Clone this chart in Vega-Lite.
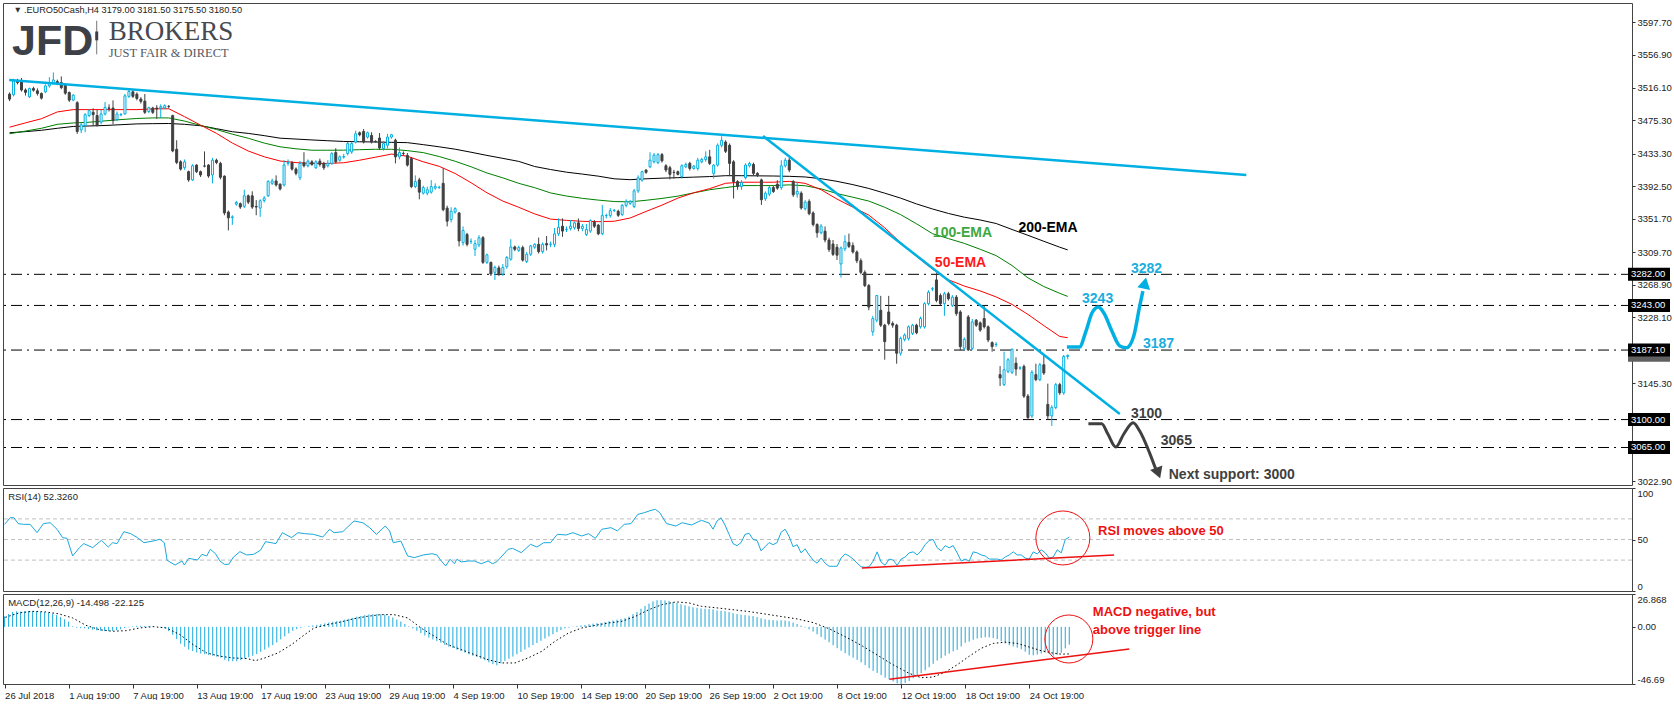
{
"$schema": "https://vega.github.io/schema/vega-lite/v6.json",
"padding": {"left": 2, "top": 2, "right": 0, "bottom": 0},
"background": "white",
"bounds": "flush",
"spacing": 3,
"config": {
  "view": {"stroke": "#444444", "strokeWidth": 1},
  "font": "Liberation Sans",
  "axis": {"labelFont": "Liberation Sans", "labelFontSize": 9.5, "labelColor": "#222222", "tickColor": "#333333", "domain": false, "grid": false, "title": null}
},
"datasets": {
"candles": [
{"i":0,"o":3507.8,"h":3510,"l":3499,"c":3501.6},{"i":1,"o":3507,"h":3527,"l":3505,"c":3524.3},{"i":2,"o":3524.3,"h":3527,"l":3520,"c":3522.3},{"i":3,"o":3524,"h":3528,"l":3511,"c":3513},{"i":4,"o":3513,"h":3515,"l":3506,"c":3510},{"i":5,"o":3504.5,"h":3516,"l":3503,"c":3514.8},{"i":6,"o":3514.8,"h":3517,"l":3511,"c":3512.7},{"i":7,"o":3512,"h":3515,"l":3506,"c":3508.6},{"i":8,"o":3508.6,"h":3510,"l":3501,"c":3502.8},{"i":9,"o":3510.7,"h":3520,"l":3509,"c":3518.1},
{"i":10,"o":3518.1,"h":3529,"l":3516,"c":3522.3},{"i":11,"o":3521.4,"h":3535,"l":3520,"c":3525.6},{"i":12,"o":3523.5,"h":3526,"l":3519,"c":3521.4},{"i":13,"o":3522.3,"h":3530,"l":3514,"c":3516},{"i":14,"o":3519,"h":3521,"l":3507,"c":3509},{"i":15,"o":3509.9,"h":3511,"l":3498,"c":3500.3},{"i":16,"o":3500.3,"h":3508,"l":3499,"c":3506.5},{"i":17,"o":3497,"h":3499,"l":3458,"c":3461},{"i":18,"o":3463,"h":3472,"l":3459,"c":3469.3},{"i":19,"o":3468.5,"h":3484,"l":3460,"c":3482.1},
{"i":20,"o":3480.9,"h":3489,"l":3479,"c":3487.1},{"i":21,"o":3485,"h":3490,"l":3468,"c":3482.1},{"i":22,"o":3481,"h":3488,"l":3467,"c":3468.5},{"i":23,"o":3472.6,"h":3488,"l":3470,"c":3483},{"i":24,"o":3483,"h":3498,"l":3481,"c":3491.2},{"i":25,"o":3490.5,"h":3495,"l":3486,"c":3490},{"i":26,"o":3490.4,"h":3500,"l":3470,"c":3474.7},{"i":27,"o":3476,"h":3486,"l":3474,"c":3483},{"i":28,"o":3482,"h":3484,"l":3480,"c":3482.5},{"i":29,"o":3483,"h":3508,"l":3482,"c":3505.7},
{"i":30,"o":3505,"h":3514,"l":3503,"c":3511.1},{"i":31,"o":3510.7,"h":3514,"l":3503,"c":3505},{"i":32,"o":3507.8,"h":3510,"l":3500,"c":3502.4},{"i":33,"o":3501.6,"h":3504,"l":3496,"c":3498.7},{"i":34,"o":3499,"h":3508,"l":3483,"c":3485},{"i":35,"o":3486,"h":3492,"l":3484,"c":3490.8},{"i":36,"o":3490.4,"h":3492,"l":3483,"c":3485},{"i":37,"o":3490.4,"h":3494,"l":3477,"c":3489.2},{"i":38,"o":3490.4,"h":3495,"l":3478,"c":3492.1},{"i":39,"o":3490.4,"h":3495,"l":3489,"c":3493.3},
{"i":40,"o":3492.5,"h":3494,"l":3490,"c":3492.4},{"i":41,"o":3480.9,"h":3482,"l":3435,"c":3436.6},{"i":42,"o":3438.7,"h":3450,"l":3420,"c":3422.2},{"i":43,"o":3423,"h":3425,"l":3412,"c":3413.9},{"i":44,"o":3415.6,"h":3426,"l":3413,"c":3423},{"i":45,"o":3410.6,"h":3412,"l":3398,"c":3400.3},{"i":46,"o":3400.3,"h":3420,"l":3399,"c":3418},{"i":47,"o":3418.9,"h":3420,"l":3409,"c":3410.6},{"i":48,"o":3410.6,"h":3412,"l":3404,"c":3406.5},{"i":49,"o":3417.8,"h":3436,"l":3416,"c":3417.6},
{"i":50,"o":3418.9,"h":3420,"l":3403,"c":3405.2},{"i":51,"o":3406.5,"h":3428,"l":3396,"c":3425},{"i":52,"o":3425,"h":3427,"l":3420,"c":3422.2},{"i":53,"o":3421,"h":3423,"l":3401,"c":3403.6},{"i":54,"o":3405,"h":3406,"l":3356,"c":3358.9},{"i":55,"o":3360,"h":3362,"l":3337,"c":3352.7},{"i":56,"o":3353,"h":3356,"l":3344,"c":3354},{"i":57,"o":3370,"h":3374,"l":3368,"c":3372},{"i":58,"o":3370.5,"h":3372,"l":3364,"c":3366.3},{"i":59,"o":3367.2,"h":3388,"l":3365,"c":3380.4},
{"i":60,"o":3380.4,"h":3382,"l":3370,"c":3372.5},{"i":61,"o":3380.4,"h":3386,"l":3364,"c":3366.3},{"i":62,"o":3367,"h":3375,"l":3356,"c":3366.3},{"i":63,"o":3365,"h":3376,"l":3354,"c":3374.2},{"i":64,"o":3374.5,"h":3380,"l":3372,"c":3377.5},{"i":65,"o":3380.4,"h":3400,"l":3379,"c":3398.2},{"i":66,"o":3396,"h":3402,"l":3394,"c":3399},{"i":67,"o":3399,"h":3406,"l":3392,"c":3394},{"i":68,"o":3394.9,"h":3396,"l":3387,"c":3389},{"i":69,"o":3394,"h":3425,"l":3392,"c":3418.9},
{"i":70,"o":3421,"h":3426,"l":3418,"c":3422},{"i":71,"o":3421.7,"h":3424,"l":3412,"c":3413.9},{"i":72,"o":3414,"h":3416,"l":3406,"c":3408.5},{"i":73,"o":3403,"h":3424,"l":3400,"c":3421},{"i":74,"o":3421.7,"h":3435,"l":3416,"c":3418},{"i":75,"o":3418,"h":3426,"l":3416,"c":3423.8},{"i":76,"o":3423,"h":3425,"l":3418,"c":3419.7},{"i":77,"o":3415.6,"h":3425,"l":3414,"c":3423},{"i":78,"o":3423.8,"h":3427,"l":3417,"c":3419.7},{"i":79,"o":3421,"h":3423,"l":3413,"c":3415.6},
{"i":80,"o":3418,"h":3425,"l":3416,"c":3421},{"i":81,"o":3421,"h":3435,"l":3419,"c":3433.3},{"i":82,"o":3434.6,"h":3440,"l":3421,"c":3423},{"i":83,"o":3425,"h":3431,"l":3423,"c":3429.2},{"i":84,"o":3429,"h":3433,"l":3427,"c":3429.5},{"i":85,"o":3433.3,"h":3448,"l":3431,"c":3445.8},{"i":86,"o":3435.4,"h":3448,"l":3433,"c":3445.8},{"i":87,"o":3447.8,"h":3462,"l":3446,"c":3458.1},{"i":88,"o":3459.4,"h":3461,"l":3455,"c":3456.9},{"i":89,"o":3461,"h":3464,"l":3446,"c":3447.8},
{"i":90,"o":3454,"h":3461,"l":3452,"c":3459.4},{"i":91,"o":3456,"h":3460,"l":3446,"c":3447.8},{"i":92,"o":3448.6,"h":3450,"l":3447,"c":3448.4},{"i":93,"o":3452.8,"h":3459,"l":3438,"c":3440.4},{"i":94,"o":3439.6,"h":3449,"l":3437,"c":3445.8},{"i":95,"o":3443.7,"h":3458,"l":3440,"c":3454},{"i":96,"o":3454,"h":3458,"l":3452,"c":3456.9},{"i":97,"o":3450,"h":3452,"l":3421,"c":3429.2},{"i":98,"o":3429.2,"h":3441,"l":3426,"c":3434.6},{"i":99,"o":3433.5,"h":3436,"l":3431,"c":3433.3},
{"i":100,"o":3431,"h":3434,"l":3417,"c":3418.9},{"i":101,"o":3427,"h":3429,"l":3390,"c":3392},{"i":102,"o":3392,"h":3406,"l":3390,"c":3398.2},{"i":103,"o":3400.3,"h":3403,"l":3376,"c":3385},{"i":104,"o":3383.7,"h":3393,"l":3382,"c":3390.7},{"i":105,"o":3383.7,"h":3392,"l":3381,"c":3387.9},{"i":106,"o":3385,"h":3400,"l":3383,"c":3392},{"i":107,"o":3390,"h":3396,"l":3388,"c":3392},{"i":108,"o":3390.8,"h":3393,"l":3389,"c":3391},{"i":109,"o":3396,"h":3415,"l":3361,"c":3363},
{"i":110,"o":3365,"h":3368,"l":3342,"c":3348.6},{"i":111,"o":3350.7,"h":3366,"l":3347,"c":3361},{"i":112,"o":3360,"h":3366,"l":3358,"c":3364.3},{"i":113,"o":3358.9,"h":3360,"l":3317,"c":3323.8},{"i":114,"o":3321.7,"h":3342,"l":3318,"c":3337},{"i":115,"o":3332,"h":3334,"l":3317,"c":3319.6},{"i":116,"o":3323,"h":3327,"l":3320,"c":3323.4},{"i":117,"o":3313.4,"h":3325,"l":3305,"c":3320.5},{"i":118,"o":3318.8,"h":3331,"l":3316,"c":3327.9},{"i":119,"o":3327.9,"h":3330,"l":3295,"c":3297},
{"i":120,"o":3297,"h":3308,"l":3295,"c":3306.4},{"i":121,"o":3296.9,"h":3298,"l":3280,"c":3282.4},{"i":122,"o":3284.5,"h":3293,"l":3275,"c":3290.7},{"i":123,"o":3290,"h":3293,"l":3280,"c":3281.6},{"i":124,"o":3282.4,"h":3295,"l":3280,"c":3290.7},{"i":125,"o":3291.5,"h":3305,"l":3289,"c":3303.1},{"i":126,"o":3301,"h":3326,"l":3299,"c":3316.3},{"i":127,"o":3316.3,"h":3318,"l":3311,"c":3313.4},{"i":128,"o":3312,"h":3318,"l":3310,"c":3315.5},{"i":129,"o":3315.5,"h":3318,"l":3298,"c":3299.8},
{"i":130,"o":3298,"h":3310,"l":3296,"c":3307.2},{"i":131,"o":3307.2,"h":3319,"l":3305,"c":3317.6},{"i":132,"o":3316,"h":3321,"l":3314,"c":3319.6},{"i":133,"o":3319.6,"h":3328,"l":3308,"c":3310.5},{"i":134,"o":3310.5,"h":3322,"l":3308,"c":3319.6},{"i":135,"o":3320.5,"h":3330,"l":3312,"c":3318.8},{"i":136,"o":3319.6,"h":3323,"l":3316,"c":3319.8},{"i":137,"o":3319.6,"h":3340,"l":3316,"c":3332.8},{"i":138,"o":3332.8,"h":3352,"l":3330,"c":3341},{"i":139,"o":3342.3,"h":3352,"l":3329,"c":3336.2},
{"i":140,"o":3338,"h":3342,"l":3335,"c":3338.5},{"i":141,"o":3339.5,"h":3350,"l":3337,"c":3342.3},{"i":142,"o":3340.3,"h":3348,"l":3338,"c":3346.5},{"i":143,"o":3346.5,"h":3352,"l":3336,"c":3339.5},{"i":144,"o":3339.5,"h":3345,"l":3336,"c":3342.3},{"i":145,"o":3332,"h":3345,"l":3330,"c":3338.2},{"i":146,"o":3336.2,"h":3351,"l":3334,"c":3349.4},{"i":147,"o":3347.3,"h":3350,"l":3340,"c":3342.3},{"i":148,"o":3343.6,"h":3345,"l":3331,"c":3332.8},{"i":149,"o":3333,"h":3369,"l":3331,"c":3355.6},
{"i":150,"o":3355.6,"h":3358,"l":3352,"c":3355.8},{"i":151,"o":3355.6,"h":3365,"l":3353,"c":3361.8},{"i":152,"o":3362,"h":3364,"l":3360,"c":3362.2},{"i":153,"o":3361,"h":3363,"l":3354,"c":3356},{"i":154,"o":3357,"h":3370,"l":3355,"c":3368.4},{"i":155,"o":3368.4,"h":3376,"l":3366,"c":3373.4},{"i":156,"o":3371,"h":3375,"l":3369,"c":3373.4},{"i":157,"o":3367,"h":3389,"l":3365,"c":3386.6},{"i":158,"o":3386.6,"h":3406,"l":3384,"c":3403},{"i":159,"o":3400,"h":3412,"l":3398,"c":3410.6},
{"i":160,"o":3412.6,"h":3414,"l":3408,"c":3409.8},{"i":161,"o":3416.8,"h":3435,"l":3415,"c":3425},{"i":162,"o":3423,"h":3434,"l":3421,"c":3431.3},{"i":163,"o":3422,"h":3434,"l":3420,"c":3432},{"i":164,"o":3432,"h":3434,"l":3422,"c":3424.2},{"i":165,"o":3418,"h":3420,"l":3410,"c":3412.7},{"i":166,"o":3415.6,"h":3418,"l":3401,"c":3407.3},{"i":167,"o":3409.8,"h":3413,"l":3402,"c":3409.6},{"i":168,"o":3410.6,"h":3412,"l":3406,"c":3407.3},{"i":169,"o":3404.4,"h":3420,"l":3402,"c":3418},
{"i":170,"o":3416.8,"h":3422,"l":3415,"c":3419.7},{"i":171,"o":3421,"h":3423,"l":3412,"c":3414.7},{"i":172,"o":3414.7,"h":3419,"l":3413,"c":3417.6},{"i":173,"o":3414.7,"h":3428,"l":3412,"c":3425},{"i":174,"o":3423,"h":3428,"l":3421,"c":3425.9},{"i":175,"o":3425.9,"h":3436,"l":3423,"c":3429.2},{"i":176,"o":3429.2,"h":3438,"l":3419,"c":3421},{"i":177,"o":3408.5,"h":3420,"l":3402,"c":3418.9},{"i":178,"o":3418.9,"h":3446,"l":3417,"c":3443.7},{"i":179,"o":3443.7,"h":3455,"l":3441,"c":3449.9},
{"i":180,"o":3447.8,"h":3450,"l":3434,"c":3436.2},{"i":181,"o":3443.7,"h":3446,"l":3405,"c":3421},{"i":182,"o":3423,"h":3425,"l":3377,"c":3398.2},{"i":183,"o":3398.2,"h":3400,"l":3388,"c":3392},{"i":184,"o":3392,"h":3400,"l":3388,"c":3397},{"i":185,"o":3403,"h":3421,"l":3401,"c":3418.9},{"i":186,"o":3418,"h":3423,"l":3416,"c":3420.9},{"i":187,"o":3419.7,"h":3422,"l":3406,"c":3408.5},{"i":188,"o":3408.5,"h":3410,"l":3404,"c":3406.5},{"i":189,"o":3400.3,"h":3402,"l":3369,"c":3375.5},
{"i":190,"o":3376.7,"h":3386,"l":3374,"c":3383.7},{"i":191,"o":3382.5,"h":3393,"l":3380,"c":3390.7},{"i":192,"o":3390.7,"h":3393,"l":3384,"c":3385.8},{"i":193,"o":3394.9,"h":3400,"l":3388,"c":3390},{"i":194,"o":3390.7,"h":3425,"l":3388,"c":3418},{"i":195,"o":3418,"h":3428,"l":3416,"c":3425},{"i":196,"o":3425,"h":3428,"l":3410,"c":3412.7},{"i":197,"o":3398.2,"h":3400,"l":3379,"c":3381.7},{"i":198,"o":3382.5,"h":3398,"l":3378,"c":3385.8},{"i":199,"o":3383.7,"h":3386,"l":3363,"c":3365.1},
{"i":200,"o":3364.3,"h":3375,"l":3362,"c":3372.5},{"i":201,"o":3373.4,"h":3376,"l":3356,"c":3358},{"i":202,"o":3358.9,"h":3361,"l":3342,"c":3344.4},{"i":203,"o":3344.4,"h":3346,"l":3328,"c":3334.1},{"i":204,"o":3334.1,"h":3345,"l":3332,"c":3342.3},{"i":205,"o":3336,"h":3342,"l":3322,"c":3325},{"i":206,"o":3325,"h":3328,"l":3310,"c":3313},{"i":207,"o":3320,"h":3325,"l":3305,"c":3307},{"i":208,"o":3316,"h":3320,"l":3300,"c":3306},{"i":209,"o":3295,"h":3317,"l":3278,"c":3315},
{"i":210,"o":3314,"h":3331,"l":3311,"c":3323},{"i":211,"o":3322,"h":3333,"l":3315,"c":3317},{"i":212,"o":3318,"h":3322,"l":3308,"c":3310},{"i":213,"o":3310,"h":3312,"l":3296,"c":3299},{"i":214,"o":3299,"h":3302,"l":3282,"c":3284.5},{"i":215,"o":3284.5,"h":3287,"l":3266,"c":3267.9},{"i":216,"o":3267.9,"h":3270,"l":3237,"c":3241},{"i":217,"o":3210,"h":3230,"l":3205,"c":3226.6},{"i":218,"o":3224.5,"h":3256,"l":3222,"c":3255.5},{"i":219,"o":3236.9,"h":3255,"l":3216,"c":3218.3},
{"i":220,"o":3218.3,"h":3220,"l":3175,"c":3197.6},{"i":221,"o":3234.8,"h":3255,"l":3218,"c":3220.4},{"i":222,"o":3220.4,"h":3223,"l":3215,"c":3218.3},{"i":223,"o":3218.3,"h":3220,"l":3170,"c":3183.1},{"i":224,"o":3183.1,"h":3204,"l":3180,"c":3201.7},{"i":225,"o":3200.5,"h":3208,"l":3198,"c":3205.9},{"i":226,"o":3201.7,"h":3218,"l":3199,"c":3216.2},{"i":227,"o":3208,"h":3220,"l":3206,"c":3218.3},{"i":228,"o":3218.3,"h":3220,"l":3207,"c":3208.8},{"i":229,"o":3216.2,"h":3229,"l":3214,"c":3226.6},
{"i":230,"o":3216.2,"h":3247,"l":3214,"c":3245.2},{"i":231,"o":3245.2,"h":3262,"l":3243,"c":3259.6},{"i":232,"o":3263.7,"h":3266,"l":3261,"c":3264},{"i":233,"o":3275,"h":3284,"l":3247,"c":3249.3},{"i":234,"o":3255.5,"h":3258,"l":3243,"c":3245.2},{"i":235,"o":3245.2,"h":3260,"l":3230,"c":3257.6},{"i":236,"o":3257.6,"h":3260,"l":3249,"c":3251.4},{"i":237,"o":3243.1,"h":3256,"l":3241,"c":3253.4},{"i":238,"o":3253.4,"h":3256,"l":3230,"c":3232.8},{"i":239,"o":3234.8,"h":3237,"l":3187,"c":3191.4},
{"i":240,"o":3189.3,"h":3203,"l":3187,"c":3200.5},{"i":241,"o":3228.6,"h":3231,"l":3186,"c":3187.3},{"i":242,"o":3189.3,"h":3226,"l":3187,"c":3222.4},{"i":243,"o":3224.5,"h":3226,"l":3216,"c":3218.3},{"i":244,"o":3221.2,"h":3223,"l":3210,"c":3212.1},{"i":245,"o":3226.6,"h":3243,"l":3214,"c":3216.2},{"i":246,"o":3216.2,"h":3218,"l":3197,"c":3199.7},{"i":247,"o":3196.4,"h":3198,"l":3185,"c":3191.4},{"i":248,"o":3193.9,"h":3197,"l":3191,"c":3194.3},{"i":249,"o":3156.3,"h":3167,"l":3142,"c":3152.1},
{"i":250,"o":3143.8,"h":3185,"l":3142,"c":3162.5},{"i":251,"o":3160.4,"h":3177,"l":3158,"c":3174.9},{"i":252,"o":3159.2,"h":3189,"l":3157,"c":3188.1},{"i":253,"o":3170.7,"h":3178,"l":3155,"c":3163.3},{"i":254,"o":3164.5,"h":3167,"l":3162,"c":3164.8},{"i":255,"o":3166.6,"h":3169,"l":3127,"c":3129.4},{"i":256,"o":3129.4,"h":3132,"l":3100,"c":3102.5},{"i":257,"o":3104.6,"h":3162,"l":3102,"c":3159.2},{"i":258,"o":3156.3,"h":3170,"l":3148,"c":3150},{"i":259,"o":3150,"h":3171,"l":3148,"c":3168.7},
{"i":260,"o":3168.7,"h":3181,"l":3156,"c":3158.3},{"i":261,"o":3119,"h":3145,"l":3100,"c":3104.6},{"i":262,"o":3104.6,"h":3118,"l":3092,"c":3115},{"i":263,"o":3115,"h":3146,"l":3113,"c":3143.8},{"i":264,"o":3143.8,"h":3146,"l":3131,"c":3133.5},{"i":265,"o":3133.5,"h":3181,"l":3131,"c":3179},{"i":266,"o":3179,"h":3181.5,"l":3175.5,"c":3180.5}
],
"ema": [
{"i":0,"e50":3466.4,"e100":3458.2,"e200":3459.4},{"i":4,"e50":3471.8,"e100":3461.5,"e200":3460.8},{"i":8,"e50":3477,"e100":3465,"e200":3462.5},{"i":12,"e50":3485.5,"e100":3470,"e200":3465},{"i":16,"e50":3488.4,"e100":3471.7,"e200":3467.3},{"i":20,"e50":3488.4,"e100":3472.6,"e200":3467.9},{"i":24,"e50":3488.4,"e100":3474.3,"e200":3468.5},{"i":28,"e50":3488.4,"e100":3475.9,"e200":3469.5},{"i":32,"e50":3488.4,"e100":3477.3,"e200":3470.5},{"i":36,"e50":3489.3,"e100":3478,"e200":3470.8},
{"i":40,"e50":3489.5,"e100":3478,"e200":3471},{"i":44,"e50":3479.5,"e100":3474,"e200":3470},{"i":48,"e50":3469,"e100":3468.6,"e200":3468.2},{"i":52,"e50":3458.7,"e100":3463.5,"e200":3464.5},{"i":56,"e50":3446.5,"e100":3457.6,"e200":3460.7},{"i":60,"e50":3436.5,"e100":3452.5,"e200":3458.6},{"i":64,"e50":3429.3,"e100":3446.5,"e200":3455.8},{"i":68,"e50":3424,"e100":3441.8,"e200":3452.6},{"i":72,"e50":3422,"e100":3439.3,"e200":3451.5},{"i":76,"e50":3421,"e100":3437.5,"e200":3450.4},
{"i":80,"e50":3421,"e100":3437.5,"e200":3449.4},{"i":84,"e50":3421.8,"e100":3437.6,"e200":3448.5},{"i":88,"e50":3425,"e100":3438.2,"e200":3448.1},{"i":92,"e50":3428.8,"e100":3438.7,"e200":3447.8},{"i":96,"e50":3432.7,"e100":3438.7,"e200":3447.4},{"i":100,"e50":3430,"e100":3437,"e200":3447},{"i":104,"e50":3423,"e100":3434.5,"e200":3444.5},{"i":108,"e50":3417.3,"e100":3429.6,"e200":3441.8},{"i":112,"e50":3408.4,"e100":3423.7,"e200":3438.8},{"i":116,"e50":3396.8,"e100":3416.8,"e200":3435},
{"i":120,"e50":3384.2,"e100":3409,"e200":3431},{"i":124,"e50":3373.8,"e100":3402.9,"e200":3427.3},{"i":128,"e50":3366,"e100":3396,"e200":3423.5},{"i":132,"e50":3357.7,"e100":3390.6,"e200":3417.1},{"i":136,"e50":3351.2,"e100":3384,"e200":3413.3},{"i":140,"e50":3349.6,"e100":3380.1,"e200":3410},{"i":144,"e50":3348.4,"e100":3377.2,"e200":3407.6},{"i":148,"e50":3348,"e100":3375,"e200":3405},{"i":152,"e50":3348.5,"e100":3373.2,"e200":3401.7},{"i":156,"e50":3352.6,"e100":3372.8,"e200":3400.6},
{"i":160,"e50":3360.8,"e100":3374.8,"e200":3401.7},{"i":164,"e50":3368.7,"e100":3377.1,"e200":3402.5},{"i":168,"e50":3377.5,"e100":3380,"e200":3403.1},{"i":172,"e50":3384.2,"e100":3384.1,"e200":3403.8},{"i":176,"e50":3389.4,"e100":3388,"e200":3404.5},{"i":180,"e50":3396.1,"e100":3390.7,"e200":3405.6},{"i":184,"e50":3397.4,"e100":3393.2,"e200":3405.6},{"i":188,"e50":3397.4,"e100":3393.2,"e200":3405.4},{"i":192,"e50":3397.4,"e100":3393.2,"e200":3405.2},{"i":196,"e50":3398.5,"e100":3394.1,"e200":3404.8},
{"i":200,"e50":3396,"e100":3393,"e200":3404},{"i":204,"e50":3388,"e100":3389.1,"e200":3401.8},{"i":208,"e50":3376.3,"e100":3383.2,"e200":3398.5},{"i":212,"e50":3366.2,"e100":3378.6,"e200":3394.4},{"i":216,"e50":3356.2,"e100":3373.8,"e200":3389.6},{"i":220,"e50":3340.3,"e100":3366,"e200":3383.7},{"i":224,"e50":3321.7,"e100":3356.8,"e200":3377.5},{"i":228,"e50":3304.4,"e100":3345.3,"e200":3370.2},{"i":232,"e50":3288.5,"e100":3333,"e200":3363.9},{"i":236,"e50":3275.2,"e100":3326.8,"e200":3358.3},
{"i":240,"e50":3267.3,"e100":3320.8,"e200":3353.6},{"i":244,"e50":3261.2,"e100":3313.4,"e200":3350.1},{"i":248,"e50":3253.7,"e100":3305.5,"e200":3345.7},{"i":252,"e50":3244.3,"e100":3293,"e200":3338.2},{"i":256,"e50":3231.8,"e100":3277.6,"e200":3330.9},{"i":260,"e50":3217.7,"e100":3266.7,"e200":3323.4},{"i":264,"e50":3204.1,"e100":3258.2,"e200":3316},{"i":266,"e50":3202.6,"e100":3254.3,"e200":3312.6}
],
"rsi": [
{"i":0,"r":64.7},{"i":1.4,"r":71.2},{"i":2.3,"r":71.2},{"i":3.4,"r":65.4},{"i":4.7,"r":64.7},{"i":6.4,"r":64.7},{"i":8.1,"r":56.6},{"i":9.7,"r":65.4},{"i":11.4,"r":66.3},{"i":13.1,"r":59.9},{"i":14.5,"r":51.8},{"i":15.6,"r":51.1},{"i":17,"r":34},{"i":18.7,"r":42.1},{"i":19.8,"r":46},{"i":22,"r":42.1},{"i":24.2,"r":49.2},{"i":25.9,"r":42.7},{"i":27,"r":46.9},{"i":28.1,"r":46},{"i":29.8,"r":57.6},{"i":31.5,"r":55.7},{"i":33.2,"r":51.8},{"i":34.8,"r":46.9},{"i":37.1,"r":48.5},{"i":38.8,"r":50.2},{"i":39.9,"r":46.9},{"i":40.6,"r":29.8},{"i":42.6,"r":25.2},{"i":44.3,"r":29.1},{"i":44.9,"r":25.2},{"i":46,"r":31.7},{"i":48.2,"r":30.1},{"i":49.3,"r":35.6},{"i":50.5,"r":34},{"i":51.4,"r":40.5},{"i":52.7,"r":36.2},{"i":53.8,"r":29.1},{"i":54.9,"r":25.9},{"i":56,"r":25.9},{"i":57.2,"r":33},{"i":58.8,"r":38.2},{"i":60.5,"r":35},{"i":62.2,"r":35.6},{"i":63.9,"r":39.5},{"i":65.2,"r":47.9},{"i":66.6,"r":46.9},{"i":67.8,"r":46},{"i":69.4,"r":56.6},{"i":71.7,"r":51.8},{"i":73.3,"r":56.6},{"i":75,"r":55.7},{"i":77.2,"r":55},{"i":79.5,"r":52.4},{"i":81.2,"r":59.9},{"i":82.3,"r":56.6},{"i":84.5,"r":57.6},{"i":87.3,"r":68},{"i":89.5,"r":66.3},{"i":91.2,"r":61.5},{"i":92.9,"r":55},{"i":95.1,"r":63.1},{"i":96.2,"r":58.3},{"i":97.1,"r":46.9},{"i":99,"r":48.5},{"i":100.7,"r":34},{"i":102.4,"r":32.4},{"i":104.6,"r":35},{"i":106.8,"r":36.2},{"i":108,"r":35},{"i":109.1,"r":29.1},{"i":110.2,"r":24.3},{"i":111.3,"r":30.8},{"i":112.4,"r":26.5},{"i":113,"r":30.8},{"i":114.1,"r":28.2},{"i":115.8,"r":29.1},{"i":117.4,"r":29.1},{"i":119.1,"r":26.5},{"i":120.8,"r":29.1},{"i":121.9,"r":26.5},{"i":123,"r":28.5},{"i":125.8,"r":40.5},{"i":126.9,"r":41.4},{"i":129.1,"r":37.2},{"i":131.4,"r":45.3},{"i":133,"r":42.7},{"i":134.7,"r":46.9},{"i":136.4,"r":46.9},{"i":138.1,"r":55},{"i":140.3,"r":54.4},{"i":142,"r":56.6},{"i":144.2,"r":53.4},{"i":145.9,"r":55.7},{"i":147.6,"r":51.1},{"i":149.2,"r":59.9},{"i":151.5,"r":61.5},{"i":153.1,"r":58.3},{"i":154.8,"r":64.7},{"i":156.5,"r":65.4},{"i":158.2,"r":74.4},{"i":159.8,"r":76},{"i":161.5,"r":78.3},{"i":162.6,"r":79.3},{"i":163.7,"r":76},{"i":165.4,"r":65.4},{"i":167.7,"r":63.1},{"i":169.3,"r":66.3},{"i":171.6,"r":64.1},{"i":174.1,"r":68.6},
{"i":176,"r":66},{"i":177,"r":60},{"i":178,"r":68},{"i":179,"r":71},{"i":180,"r":64},{"i":181,"r":55},{"i":182,"r":46},{"i":183,"r":44},{"i":184,"r":47},{"i":185,"r":55},{"i":186,"r":56},{"i":187,"r":50},{"i":188,"r":49},{"i":189,"r":39},{"i":190,"r":43},{"i":191,"r":47},{"i":192,"r":45},{"i":193,"r":47},{"i":194,"r":57},{"i":195,"r":60},{"i":196,"r":53},{"i":197,"r":43},{"i":198,"r":45},{"i":199,"r":37},{"i":200,"r":41},{"i":201,"r":35},{"i":202,"r":30},{"i":203,"r":27},{"i":204,"r":32},{"i":205,"r":27},{"i":206,"r":24},{"i":207,"r":24},{"i":208,"r":24},{"i":209,"r":32},{"i":210,"r":36},{"i":211,"r":34},{"i":212,"r":31},{"i":213,"r":27},{"i":214,"r":23.5},{"i":215,"r":23},{"i":216,"r":23.5},{"i":217,"r":29},{"i":218,"r":38},{"i":219,"r":28},{"i":220,"r":25},{"i":221,"r":31},{"i":222,"r":30},{"i":223,"r":25},{"i":224,"r":31},{"i":225,"r":33},{"i":226,"r":37},{"i":227,"r":38},{"i":228,"r":35},{"i":229,"r":39},{"i":230,"r":45},{"i":231,"r":49},{"i":232,"r":50},{"i":233,"r":42},{"i":234,"r":39},{"i":235,"r":44},{"i":236,"r":42},{"i":237,"r":44},{"i":238,"r":37},{"i":239,"r":29},{"i":240,"r":31},{"i":241,"r":29},{"i":242,"r":38},{"i":243,"r":37},{"i":244,"r":35},{"i":245,"r":34},{"i":246,"r":31},{"i":247,"r":31},{"i":248,"r":31},{"i":249,"r":30},{"i":250,"r":33},{"i":251,"r":35},{"i":252,"r":38},{"i":253,"r":35},{"i":254,"r":35},{"i":255,"r":32},{"i":256,"r":31},{"i":257,"r":38},{"i":258,"r":36},{"i":259,"r":40},{"i":260,"r":37},{"i":261,"r":32},{"i":262,"r":33},{"i":263,"r":40},{"i":264,"r":37},{"i":265,"r":50},{"i":266,"r":52.3}
],
"macd": [
{"i":0,"h":8.6},{"i":1,"h":10.5},{"i":2,"h":12.2},{"i":3,"h":12.7},{"i":4,"h":12.5},{"i":5,"h":12.8},{"i":6,"h":13},{"i":7,"h":12.9},{"i":8,"h":12.7},{"i":9,"h":12.4},{"i":10,"h":12.2},{"i":11,"h":11.6},{"i":12,"h":10.8},{"i":13,"h":9.6},{"i":14,"h":8},{"i":15,"h":6.2},{"i":16,"h":4.3},{"i":17,"h":0.5},{"i":18,"h":-0.6},{"i":19,"h":-1},{"i":20,"h":-1.2},{"i":21,"h":-1.8},{"i":22,"h":-2.3},{"i":23,"h":-2.8},{"i":24,"h":-3.2},{"i":25,"h":-3.5},{"i":26,"h":-3.6},{"i":27,"h":-3.3},{"i":28,"h":-2.7},{"i":29,"h":-2},{"i":30,"h":-1},{"i":31,"h":-0.3},{"i":32,"h":0.4},{"i":33,"h":0.8},{"i":34,"h":0.9},{"i":35,"h":0.7},{"i":36,"h":0.5},{"i":37,"h":0.3},{"i":38,"h":0},{"i":39,"h":-0.4},
{"i":40,"h":-1.2},{"i":41,"h":-3.5},{"i":42,"h":-6.5},{"i":43,"h":-10},{"i":44,"h":-13.7},{"i":45,"h":-16.2},{"i":46,"h":-18.6},{"i":47,"h":-19.8},{"i":48,"h":-21},{"i":49,"h":-21.8},{"i":50,"h":-22.4},{"i":51,"h":-23},{"i":52,"h":-23.6},{"i":53,"h":-24.3},{"i":54,"h":-25.2},{"i":55,"h":-26.9},{"i":56,"h":-28.1},{"i":57,"h":-28.1},{"i":58,"h":-28.1},{"i":59,"h":-27.2},{"i":60,"h":-26},{"i":61,"h":-24.8},{"i":62,"h":-23.6},{"i":63,"h":-22.2},{"i":64,"h":-20.4},{"i":65,"h":-18.6},{"i":66,"h":-16.8},{"i":67,"h":-14.9},{"i":68,"h":-12.8},{"i":69,"h":-10.2},{"i":70,"h":-7.8},{"i":71,"h":-5.3},{"i":72,"h":-3.2},{"i":73,"h":-1.9},{"i":74,"h":-0.8},{"i":75,"h":0.2},{"i":76,"h":0.6},{"i":77,"h":1.2},{"i":78,"h":1.6},{"i":79,"h":2.2},
{"i":80,"h":2.8},{"i":81,"h":3.5},{"i":82,"h":4.2},{"i":83,"h":4.7},{"i":84,"h":5.1},{"i":85,"h":5.9},{"i":86,"h":6.6},{"i":87,"h":7.4},{"i":88,"h":8.3},{"i":89,"h":8.9},{"i":90,"h":9.6},{"i":91,"h":10.1},{"i":92,"h":10.4},{"i":93,"h":10.6},{"i":94,"h":10.4},{"i":95,"h":10.1},{"i":96,"h":9},{"i":97,"h":7.7},{"i":98,"h":6},{"i":99,"h":4.4},{"i":100,"h":2.4},{"i":101,"h":0.5},{"i":102,"h":-1.2},{"i":103,"h":-3.2},{"i":104,"h":-5},{"i":105,"h":-7},{"i":106,"h":-8.7},{"i":107,"h":-10.3},{"i":108,"h":-11.7},{"i":109,"h":-13},{"i":110,"h":-14.7},{"i":111,"h":-16.2},{"i":112,"h":-17.3},{"i":113,"h":-18.6},{"i":114,"h":-19.8},{"i":115,"h":-21},{"i":116,"h":-22.5},{"i":117,"h":-23.6},{"i":118,"h":-24.7},{"i":119,"h":-26},
{"i":120,"h":-27.3},{"i":121,"h":-29},{"i":122,"h":-30.5},{"i":123,"h":-31.4},{"i":124,"h":-29.8},{"i":125,"h":-27.8},{"i":126,"h":-26},{"i":127,"h":-24.3},{"i":128,"h":-22.4},{"i":129,"h":-20.5},{"i":130,"h":-18.6},{"i":131,"h":-16.8},{"i":132,"h":-14.9},{"i":133,"h":-13.2},{"i":134,"h":-11.4},{"i":135,"h":-9.6},{"i":136,"h":-7.8},{"i":137,"h":-6},{"i":138,"h":-4.3},{"i":139,"h":-2.6},{"i":140,"h":-1.2},{"i":141,"h":-0.6},{"i":142,"h":0.2},{"i":143,"h":0.7},{"i":144,"h":1.2},{"i":145,"h":1.6},{"i":146,"h":2.2},{"i":147,"h":2.6},{"i":148,"h":3},{"i":149,"h":3.3},{"i":150,"h":4},{"i":151,"h":4.6},{"i":152,"h":5.2},{"i":153,"h":5.9},{"i":154,"h":6.5},{"i":155,"h":7.1},{"i":156,"h":8.4},{"i":157,"h":10.4},{"i":158,"h":12.3},{"i":159,"h":14.8},
{"i":160,"h":17.1},{"i":161,"h":19},{"i":162,"h":20.8},{"i":163,"h":21.8},{"i":164,"h":21.9},{"i":165,"h":21.6},{"i":166,"h":21.1},{"i":167,"h":20.2},{"i":168,"h":19.4},{"i":169,"h":18.4},{"i":170,"h":17.6},{"i":171,"h":16.8},{"i":172,"h":16},{"i":173,"h":15.6},{"i":174,"h":15},{"i":175,"h":14.8},{"i":176,"h":14.6},{"i":177,"h":14.2},{"i":178,"h":13.5},{"i":179,"h":13.2},{"i":180,"h":12.8},{"i":181,"h":12},{"i":182,"h":11.2},{"i":183,"h":10.5},{"i":184,"h":10},{"i":185,"h":9.6},{"i":186,"h":9.2},{"i":187,"h":8.8},{"i":188,"h":8},{"i":189,"h":7},{"i":190,"h":6.2},{"i":191,"h":5.8},{"i":192,"h":5.5},{"i":193,"h":5.2},{"i":194,"h":5.4},{"i":195,"h":5.2},{"i":196,"h":4.6},{"i":197,"h":3.5},{"i":198,"h":2.4},{"i":199,"h":1},
{"i":200,"h":-0.5},{"i":201,"h":-2},{"i":202,"h":-3.8},{"i":203,"h":-6},{"i":204,"h":-8.2},{"i":205,"h":-10.4},{"i":206,"h":-12.6},{"i":207,"h":-15},{"i":208,"h":-17.4},{"i":209,"h":-19.5},{"i":210,"h":-21.5},{"i":211,"h":-23.4},{"i":212,"h":-25.2},{"i":213,"h":-27},{"i":214,"h":-29},{"i":215,"h":-31.3},{"i":216,"h":-33.8},{"i":217,"h":-36},{"i":218,"h":-37.6},{"i":219,"h":-39.5},{"i":220,"h":-41.5},{"i":221,"h":-43},{"i":222,"h":-44.6},{"i":223,"h":-46.2},{"i":224,"h":-46.7},{"i":225,"h":-45.8},{"i":226,"h":-44.2},{"i":227,"h":-42},{"i":228,"h":-39.8},{"i":229,"h":-37.8},{"i":230,"h":-35.5},{"i":231,"h":-33},{"i":232,"h":-30.2},{"i":233,"h":-27.5},{"i":234,"h":-25.6},{"i":235,"h":-23.5},{"i":236,"h":-21.8},{"i":237,"h":-20},{"i":238,"h":-18.8},{"i":239,"h":-16},
{"i":240,"h":-13},{"i":241,"h":-12},{"i":242,"h":-10.5},{"i":243,"h":-9.5},{"i":244,"h":-9},{"i":245,"h":-8.5},{"i":246,"h":-8.6},{"i":247,"h":-9.2},{"i":248,"h":-10},{"i":249,"h":-11.8},{"i":250,"h":-13.5},{"i":251,"h":-15},{"i":252,"h":-16},{"i":253,"h":-17},{"i":254,"h":-18.3},{"i":255,"h":-20.3},{"i":256,"h":-22.8},{"i":257,"h":-23.2},{"i":258,"h":-22.6},{"i":259,"h":-21.8},{"i":260,"h":-21},{"i":261,"h":-22.3},{"i":262,"h":-23.6},{"i":263,"h":-22.8},{"i":264,"h":-21.2},{"i":265,"h":-17.6},{"i":266,"h":-14.5}
],
"signal": [
{"i":0.2,"s":7.8},{"i":3.6,"s":11.4},{"i":6.9,"s":12.7},{"i":10.3,"s":12.2},{"i":13.6,"s":10.6},{"i":17,"s":7.3},{"i":20.3,"s":1.3},{"i":23.7,"s":-2.3},{"i":27,"s":-3.6},{"i":30.4,"s":-3.1},{"i":33.7,"s":-0.9},{"i":37.1,"s":0.2},{"i":40.4,"s":-0.9},{"i":43.8,"s":-6.3},{"i":47.1,"s":-14.5},{"i":50.5,"s":-21.3},{"i":53.8,"s":-24},{"i":57.2,"s":-25.4},{"i":60.5,"s":-25.9},{"i":62.7,"s":-27.6},{"i":65,"s":-25.4},{"i":68.3,"s":-21.3},{"i":71.7,"s":-14.5},{"i":75,"s":-6.3},{"i":77.3,"s":-0.9},{"i":80.6,"s":1.8},{"i":84,"s":4},{"i":87.3,"s":6.7},{"i":90.6,"s":8.6},{"i":94,"s":10},{"i":97.3,"s":10},{"i":100.7,"s":7.3},{"i":104,"s":-0.9},{"i":107.4,"s":-7.7},{"i":110.7,"s":-14.5},{"i":114.1,"s":-18.6},{"i":117.4,"s":-22.7},{"i":120.8,"s":-26.8},{"i":124.1,"s":-29.5},{"i":127.5,"s":-29.5},{"i":130.8,"s":-25.4},{"i":134.2,"s":-20},{"i":137.5,"s":-11.8},{"i":140.9,"s":-5},{"i":144.2,"s":-0.9},{"i":147.6,"s":1.3},{"i":150.9,"s":3.2},{"i":154.3,"s":4.6},{"i":157.6,"s":8.6},{"i":161,"s":14.1},{"i":164.3,"s":18.2},{"i":167.7,"s":20.4},{"i":171,"s":19.6},{"i":174.1,"s":16.8},
{"i":178,"s":15.5},{"i":182,"s":14},{"i":186,"s":12.5},{"i":190,"s":10.5},{"i":194,"s":8.5},{"i":198,"s":6.5},{"i":202,"s":3.5},{"i":206,"s":-1.5},{"i":210,"s":-8},{"i":214,"s":-15},{"i":218,"s":-23},{"i":222,"s":-31},{"i":226,"s":-38},{"i":229,"s":-41.5},{"i":232,"s":-41},{"i":235,"s":-37},{"i":238,"s":-31},{"i":241,"s":-24},{"i":244,"s":-17.5},{"i":247,"s":-13.5},{"i":250,"s":-12.5},{"i":253,"s":-13.5},{"i":256,"s":-16.5},{"i":259,"s":-19.5},{"i":262,"s":-21.5},{"i":264,"s":-22.3},{"i":266,"s":-22.1}
]
},
"vconcat": [
{
"width": 1629, "height": 482,
"layer": [
{"data": {"values": [{"p":3282},{"p":3243},{"p":3187.1},{"p":3100},{"p":3065}]},
 "mark": {"type": "rule", "color": "#000000", "strokeWidth": 1, "strokeDash": [11, 5, 2, 5]},
 "encoding": {"y": {"field": "p", "type": "quantitative", "scale": {"domain": [3018, 3622], "nice": false, "zero": false},
   "axis": {"orient": "right", "values": [3597.7, 3556.9, 3516.1, 3475.3, 3433.3, 3392.5, 3351.7, 3309.7, 3268.9, 3228.1, 3145.3, 3022.9], "format": ".2f", "tickSize": 3, "labelPadding": 2, "labelBaseline": "middle"}}}},
{"data": {"name": "ema"}, "mark": {"type": "line", "color": "#000000", "strokeWidth": 1},
 "encoding": {"x": {"field": "i", "type": "quantitative", "scale": {"domain": [-0.4, 406.6], "nice": false, "zero": false}, "axis": null}, "y": {"field": "e200", "type": "quantitative"}}},
{"data": {"name": "ema"}, "mark": {"type": "line", "color": "#008000", "strokeWidth": 1},
 "encoding": {"x": {"field": "i", "type": "quantitative"}, "y": {"field": "e100", "type": "quantitative"}}},
{"data": {"name": "ema"}, "mark": {"type": "line", "color": "#ff0000", "strokeWidth": 1},
 "encoding": {"x": {"field": "i", "type": "quantitative"}, "y": {"field": "e50", "type": "quantitative"}}},
{"data": {"name": "candles"}, "mark": {"type": "rule", "strokeWidth": 1},
 "encoding": {"x": {"field": "i", "type": "quantitative"}, "y": {"field": "l", "type": "quantitative"}, "y2": {"field": "h"},
   "color": {"condition": {"test": "datum.c >= datum.o", "value": "#00aee0"}, "value": "#404040"}}},
{"data": {"name": "candles"}, "mark": {"type": "bar", "width": 2, "strokeWidth": 1},
 "encoding": {"x": {"field": "i", "type": "quantitative"}, "y": {"field": "o", "type": "quantitative"}, "y2": {"field": "c"},
   "fill": {"condition": {"test": "datum.c >= datum.o", "value": "#ffffff"}, "value": "#404040"},
   "stroke": {"condition": {"test": "datum.c >= datum.o", "value": "#00aee0"}, "value": "#404040"}}},
{"data": {"values": [{"g":"a","i":-0.1,"p":3525.5},{"g":"a","i":310.9,"p":3406.4},{"g":"b","i":189.4,"p":3455.3},{"g":"b","i":279.1,"p":3106.9}]},
 "mark": {"type": "line", "color": "#00b0e2", "strokeWidth": 2.5},
 "encoding": {"x": {"field": "i", "type": "quantitative"}, "y": {"field": "p", "type": "quantitative"}, "detail": {"field": "g"}}},
{"data": {"values": [{"i":265.8,"p":3190.9},{"i":268.95,"p":3190.9},{"i":270.6,"p":3210.9},{"i":272.1,"p":3233.5},{"i":273.7,"p":3241},{"i":275.1,"p":3233.5},{"i":277.1,"p":3210.9},{"i":279.1,"p":3192.2},{"i":280.8,"p":3190},{"i":282.6,"p":3204.7},{"i":284.1,"p":3242.3},{"i":284.9,"p":3261}]},
 "mark": {"type": "line", "color": "#00b0e2", "strokeWidth": 3.5, "interpolate": "monotone"},
 "encoding": {"x": {"field": "i", "type": "quantitative"}, "y": {"field": "p", "type": "quantitative"}}},
{"data": {"values": [{"i":271.2,"p":3094.8},{"i":274.55,"p":3094.8},{"i":276.1,"p":3081.9},{"i":278.1,"p":3065.6},{"i":280.1,"p":3081.9},{"i":282.45,"p":3096},{"i":284.1,"p":3085.6},{"i":286.6,"p":3058},{"i":288.2,"p":3037}]},
 "mark": {"type": "line", "color": "#404040", "strokeWidth": 3, "interpolate": "monotone"},
 "encoding": {"x": {"field": "i", "type": "quantitative"}, "y": {"field": "p", "type": "quantitative"}}},
{"data": {"values": [{"i":285.4,"p":3271.1}]},
 "mark": {"type": "point", "shape": "triangle-up", "filled": true, "color": "#00b0e2", "size": 170, "angle": 12, "opacity": 1},
 "encoding": {"x": {"field": "i", "type": "quantitative"}, "y": {"field": "p", "type": "quantitative"}}},
{"data": {"values": [{"i":288.75,"p":3033}]},
 "mark": {"type": "point", "shape": "triangle-down", "filled": true, "color": "#404040", "size": 170, "angle": -20, "opacity": 1},
 "encoding": {"x": {"field": "i", "type": "quantitative"}, "y": {"field": "p", "type": "quantitative"}}},
{"data": {"values": [{"i":253.6,"p":3340,"t":"200-EMA"}]},
 "mark": {"type": "text", "align": "left", "baseline": "middle", "font": "Liberation Sans", "fontWeight": "bold", "fontSize": 14, "color": "#000000"},
 "encoding": {"x": {"field": "i", "type": "quantitative"}, "y": {"field": "p", "type": "quantitative"}, "text": {"field": "t"}}},
{"data": {"values": [{"i":232.1,"p":3333.7,"t":"100-EMA"}]},
 "mark": {"type": "text", "align": "left", "baseline": "middle", "font": "Liberation Sans", "fontWeight": "bold", "fontSize": 14, "color": "#3ea83e"},
 "encoding": {"x": {"field": "i", "type": "quantitative"}, "y": {"field": "p", "type": "quantitative"}, "text": {"field": "t"}}},
{"data": {"values": [{"i":232.6,"p":3296.1,"t":"50-EMA"}]},
 "mark": {"type": "text", "align": "left", "baseline": "middle", "font": "Liberation Sans", "fontWeight": "bold", "fontSize": 14, "color": "#ff1a1a"},
 "encoding": {"x": {"field": "i", "type": "quantitative"}, "y": {"field": "p", "type": "quantitative"}, "text": {"field": "t"}}},
{"data": {"values": [{"i":281.9,"p":3289,"t":"3282"},{"i":269.6,"p":3250.7,"t":"3243"},{"i":284.9,"p":3194.3,"t":"3187"}]},
 "mark": {"type": "text", "align": "left", "baseline": "middle", "font": "Liberation Sans", "fontWeight": "bold", "fontSize": 14, "color": "#1aaee0"},
 "encoding": {"x": {"field": "i", "type": "quantitative"}, "y": {"field": "p", "type": "quantitative"}, "text": {"field": "t"}}},
{"data": {"values": [{"i":281.9,"p":3106.6,"t":"3100"},{"i":289.4,"p":3073.1,"t":"3065"},{"i":291.4,"p":3030.1,"t":"Next support: 3000"}]},
 "mark": {"type": "text", "align": "left", "baseline": "middle", "font": "Liberation Sans", "fontWeight": "bold", "fontSize": 14, "color": "#404040"},
 "encoding": {"x": {"field": "i", "type": "quantitative"}, "y": {"field": "p", "type": "quantitative"}, "text": {"field": "t"}}},
{"data": {"values": [{"i":3.6,"p":3613.2,"t":".EURO50Cash,H4  3179.00 3181.50 3175.50 3180.50"}]},
 "mark": {"type": "text", "align": "left", "baseline": "middle", "font": "Liberation Sans", "fontSize": 9.2, "color": "#222222"},
 "encoding": {"x": {"field": "i", "type": "quantitative"}, "y": {"field": "p", "type": "quantitative"}, "text": {"field": "t"}}},
{"data": {"values": [{"i":1.4,"p":3613.2,"t":"▼"}]},
 "mark": {"type": "text", "align": "left", "baseline": "middle", "font": "DejaVu Sans", "fontSize": 6.5, "color": "#333333"},
 "encoding": {"x": {"field": "i", "type": "quantitative"}, "y": {"field": "p", "type": "quantitative"}, "text": {"field": "t"}}},
{"data": {"values": [{"i":0.6,"p":3557.4,"t":"JFD"}]},
 "mark": {"type": "text", "align": "left", "baseline": "alphabetic", "font": "Liberation Sans Narrow, Liberation Sans", "fontWeight": "bold", "fontSize": 43, "color": "#3d4047"},
 "encoding": {"x": {"field": "i", "type": "quantitative"}, "y": {"field": "p", "type": "quantitative"}, "text": {"field": "t"}}},
{"data": {"values": [{"i":24.9,"p":3575.9,"t":"BROKERS"}]},
 "mark": {"type": "text", "align": "left", "baseline": "alphabetic", "font": "Liberation Serif", "fontSize": 27, "color": "#464950"},
 "encoding": {"x": {"field": "i", "type": "quantitative"}, "y": {"field": "p", "type": "quantitative"}, "text": {"field": "t"}}},
{"data": {"values": [{"i":24.9,"p":3554.9,"t":"JUST FAIR & DIRECT"}]},
 "mark": {"type": "text", "align": "left", "baseline": "alphabetic", "font": "Liberation Serif", "fontSize": 12.5, "color": "#555860"},
 "encoding": {"x": {"field": "i", "type": "quantitative"}, "y": {"field": "p", "type": "quantitative"}, "text": {"field": "t"}}},
{"data": {"values": [{"i":21.9,"a":3599.7,"b":3557.7}]},
 "mark": {"type": "rule", "color": "#777777", "strokeWidth": 1},
 "encoding": {"x": {"field": "i", "type": "quantitative"}, "y": {"field": "a", "type": "quantitative"}, "y2": {"field": "b"}}},
{"data": {"values": [{"i":21.9,"a":3586.3,"b":3575.2}]},
 "mark": {"type": "rule", "color": "#3d4047", "strokeWidth": 3},
 "encoding": {"x": {"field": "i", "type": "quantitative"}, "y": {"field": "a", "type": "quantitative"}, "y2": {"field": "b"}}},
{"data": {"values": [{"p":3180.5}]},
 "mark": {"type": "rect", "color": "#606060", "xOffset": 1, "x2Offset": 43, "yOffset": -6.5, "y2Offset": 6.5},
 "encoding": {"x": {"datum": 406.6, "type": "quantitative"}, "x2": {"datum": 406.6}, "y": {"field": "p", "type": "quantitative"}, "y2": {"field": "p"}}},
{"data": {"values": [{"p":3282,"t":"3282.00"},{"p":3243,"t":"3243.00"},{"p":3187.1,"t":"3187.10"},{"p":3100,"t":"3100.00"},{"p":3065,"t":"3065.00"}]},
 "mark": {"type": "rect", "color": "#000000", "xOffset": 1, "x2Offset": 43, "yOffset": -6.5, "y2Offset": 6.5},
 "encoding": {"x": {"datum": 406.6, "type": "quantitative"}, "x2": {"datum": 406.6}, "y": {"field": "p", "type": "quantitative"}, "y2": {"field": "p"}}},
{"data": {"values": [{"p":3282,"t":"3282.00"},{"p":3243,"t":"3243.00"},{"p":3187.1,"t":"3187.10"},{"p":3100,"t":"3100.00"},{"p":3065,"t":"3065.00"}]},
 "mark": {"type": "text", "align": "left", "baseline": "middle", "dx": 4, "font": "Liberation Sans", "fontSize": 9.5, "color": "#ffffff"},
 "encoding": {"x": {"datum": 406.6, "type": "quantitative"}, "y": {"field": "p", "type": "quantitative"}, "text": {"field": "t"}}}
]
},
{
"width": 1629, "height": 103,
"layer": [
{"data": {"values": [{"v":30},{"v":50},{"v":70}]},
 "mark": {"type": "rule", "color": "#c0c0c0", "strokeWidth": 1, "strokeDash": [4, 3]},
 "encoding": {"y": {"field": "v", "type": "quantitative", "scale": {"domain": [0, 100], "nice": false},
   "axis": {"orient": "right", "values": [0, 30, 50, 70, 100], "tickSize": 3, "labelPadding": 2, "labelFlush": true}}}},
{"data": {"name": "rsi"}, "mark": {"type": "line", "color": "#1aa8dc", "strokeWidth": 1},
 "encoding": {"x": {"field": "i", "type": "quantitative", "scale": {"domain": [-0.4, 406.6], "nice": false, "zero": false}, "axis": null}, "y": {"field": "r", "type": "quantitative"}}},
{"data": {"values": [{"i":214.2,"r":22.4},{"i":277.2,"r":34.9}]},
 "mark": {"type": "line", "color": "#ee1111", "strokeWidth": 1.5},
 "encoding": {"x": {"field": "i", "type": "quantitative"}, "y": {"field": "r", "type": "quantitative"}}},
{"data": {"values": [{"i":264.4,"r":51.5}]},
 "mark": {"type": "point", "shape": "circle", "filled": false, "stroke": "#ee1111", "strokeWidth": 1, "size": 2916, "opacity": 1},
 "encoding": {"x": {"field": "i", "type": "quantitative"}, "y": {"field": "r", "type": "quantitative"}}},
{"data": {"values": [{"i":273.2,"r":58.7,"t":"RSI moves above 50"}]},
 "mark": {"type": "text", "align": "left", "baseline": "middle", "font": "Liberation Sans", "fontWeight": "bold", "fontSize": 13, "color": "#ee1111"},
 "encoding": {"x": {"field": "i", "type": "quantitative"}, "y": {"field": "r", "type": "quantitative"}, "text": {"field": "t"}}},
{"data": {"values": [{"i":0.9,"r":91.6,"t":"RSI(14) 52.3260"}]},
 "mark": {"type": "text", "align": "left", "baseline": "middle", "font": "Liberation Sans", "fontSize": 9.5, "color": "#222222"},
 "encoding": {"x": {"field": "i", "type": "quantitative"}, "y": {"field": "r", "type": "quantitative"}, "text": {"field": "t"}}}
]
},
{
"width": 1629, "height": 90,
"layer": [
{"data": {"name": "macd"}, "mark": {"type": "rule", "color": "#1aa8dc", "strokeWidth": 1},
 "encoding": {"x": {"field": "i", "type": "quantitative", "scale": {"domain": [-0.4, 406.6], "nice": false, "zero": false},
   "axis": {"values": [0, 16, 32, 48, 64, 80, 96, 112, 128, 144, 160, 176, 192, 208, 224, 240, 256], "labelExpr": "['26 Jul 2018','1 Aug 19:00','7 Aug 19:00','13 Aug 19:00','17 Aug 19:00','23 Aug 19:00','29 Aug 19:00','4 Sep 19:00','10 Sep 19:00','14 Sep 19:00','20 Sep 19:00','26 Sep 19:00','2 Oct 19:00','8 Oct 19:00','12 Oct 19:00','18 Oct 19:00','24 Oct 19:00'][round(datum.value/16)]", "labelAlign": "left", "labelPadding": 2, "tickSize": 4, "labelOverlap": false, "labelFlush": false}},
   "y": {"field": "h", "type": "quantitative", "scale": {"domain": [-46.69, 26.868], "nice": false, "zero": false},
   "axis": {"orient": "right", "values": [-46.69, 0, 26.868], "labelExpr": "datum.value == 0 ? '0.00' : (datum.value > 0 ? '26.868' : '-46.69')", "tickSize": 3, "labelPadding": 2, "labelFlush": true}},
   "y2": {"datum": 0}}},
{"data": {"name": "signal"}, "mark": {"type": "line", "color": "#000000", "strokeWidth": 1, "strokeDash": [1.5, 2.5]},
 "encoding": {"x": {"field": "i", "type": "quantitative"}, "y": {"field": "s", "type": "quantitative"}}},
{"data": {"values": [{"i":221.1,"s":-42.8},{"i":281,"s":-18.1}]},
 "mark": {"type": "line", "color": "#ee1111", "strokeWidth": 1.5},
 "encoding": {"x": {"field": "i", "type": "quantitative"}, "y": {"field": "s", "type": "quantitative"}}},
{"data": {"values": [{"i":265.9,"s":-9.9}]},
 "mark": {"type": "point", "shape": "circle", "filled": false, "stroke": "#ee1111", "strokeWidth": 1, "size": 2304, "opacity": 1},
 "encoding": {"x": {"field": "i", "type": "quantitative"}, "y": {"field": "s", "type": "quantitative"}}},
{"data": {"values": [{"i":271.9,"s":12.4,"t":"MACD negative, but"},{"i":271.9,"s":-2.4,"t":"above trigger line"}]},
 "mark": {"type": "text", "align": "left", "baseline": "middle", "font": "Liberation Sans", "fontWeight": "bold", "fontSize": 13, "color": "#ee1111"},
 "encoding": {"x": {"field": "i", "type": "quantitative"}, "y": {"field": "s", "type": "quantitative"}, "text": {"field": "t"}}},
{"data": {"values": [{"i":0.9,"s":19.8,"t":"MACD(12,26,9) -14.498 -22.125"}]},
 "mark": {"type": "text", "align": "left", "baseline": "middle", "font": "Liberation Sans", "fontSize": 9.5, "color": "#222222"},
 "encoding": {"x": {"field": "i", "type": "quantitative"}, "y": {"field": "s", "type": "quantitative"}, "text": {"field": "t"}}}
]
}
]
}
